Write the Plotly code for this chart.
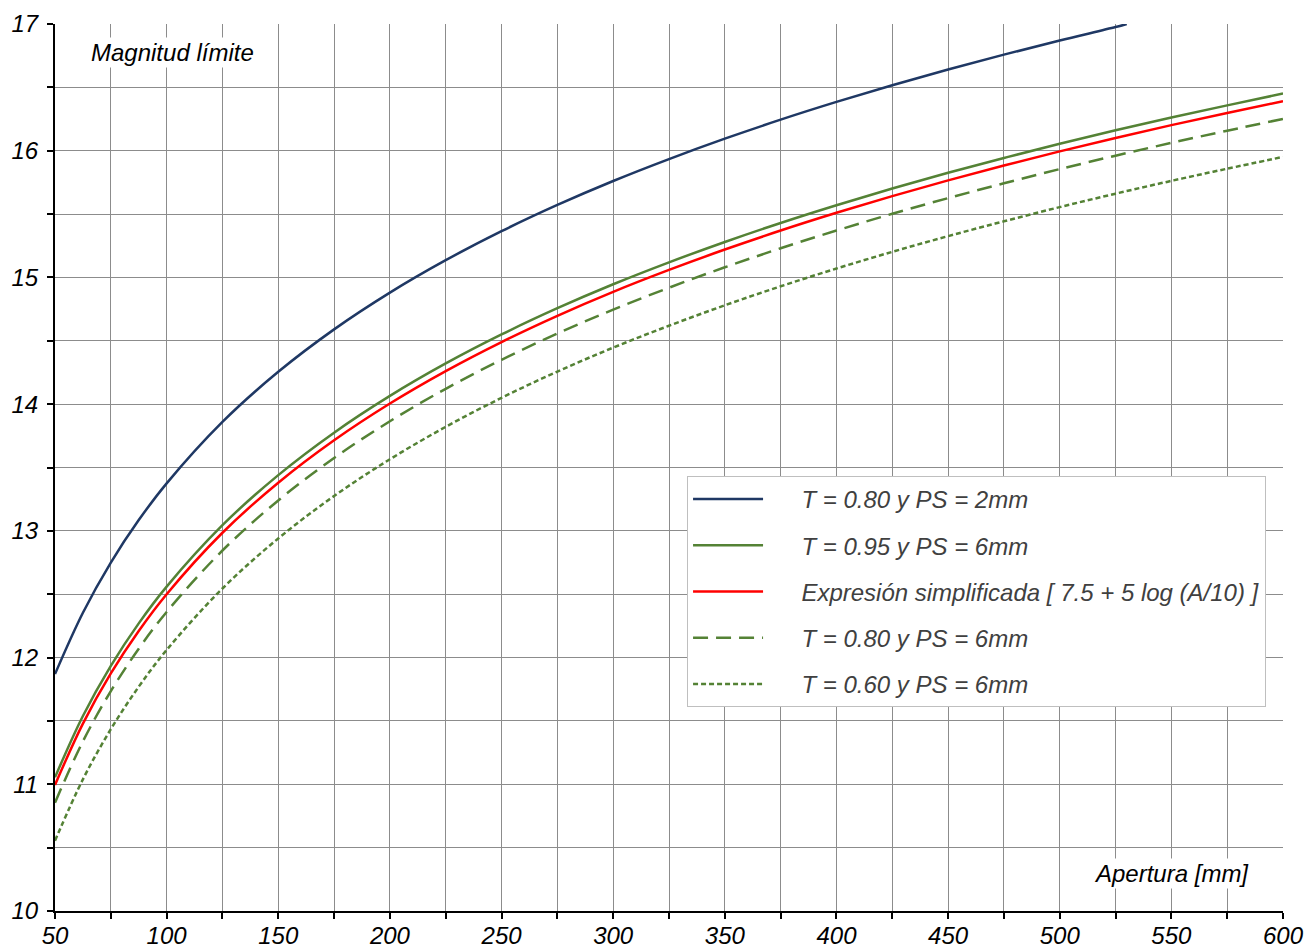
import plotly.graph_objects as go

# Aperture [mm]
apertura = [50, 62.5, 75, 87.5, 100, 125, 150, 175, 200, 225, 250, 275, 300,
            325, 350, 375, 400, 425, 450, 475, 500, 525, 550, 575, 600]
apertura_azul = [50, 62.5, 75, 87.5, 100, 125, 150, 175, 200, 225, 250, 275, 300,
                 325, 350, 375, 400, 425, 450, 475, 500, 525, 530]

# Limiting magnitude
t080_ps2 = [11.870, 12.354, 12.750, 13.085, 13.375, 13.860, 14.255, 14.590, 14.880,
            15.136, 15.365, 15.572, 15.761, 15.934, 16.095, 16.245, 16.385, 16.517,
            16.641, 16.758, 16.870, 16.976, 17.000]
t095_ps6 = [11.055, 11.539, 11.935, 12.270, 12.560, 13.045, 13.440, 13.775, 14.065,
            14.321, 14.550, 14.757, 14.946, 15.119, 15.280, 15.430, 15.570, 15.702,
            15.826, 15.943, 16.055, 16.161, 16.262, 16.358, 16.451]
simplificada = [10.995, 11.479, 11.875, 12.210, 12.500, 12.985, 13.380, 13.715, 14.005,
                14.261, 14.490, 14.697, 14.886, 15.059, 15.220, 15.370, 15.510, 15.642,
                15.766, 15.883, 15.995, 16.101, 16.202, 16.298, 16.391]
t080_ps6 = [10.855, 11.339, 11.735, 12.070, 12.360, 12.845, 13.240, 13.575, 13.865,
            14.121, 14.350, 14.557, 14.746, 14.919, 15.080, 15.230, 15.370, 15.502,
            15.626, 15.743, 15.855, 15.961, 16.062, 16.158, 16.251]
t060_ps6 = [10.555, 11.039, 11.435, 11.770, 12.060, 12.545, 12.940, 13.275, 13.565,
            13.821, 14.050, 14.257, 14.446, 14.619, 14.780, 14.930, 15.070, 15.202,
            15.326, 15.443, 15.555, 15.661, 15.762, 15.858, 15.951]

nombres = ["T = 0.80 y PS = 2mm", "T = 0.95 y PS = 6mm",
           "Expresión simplificada [ 7.5 + 5 log (A/10) ]",
           "T = 0.80 y PS = 6mm", "T = 0.60 y PS = 6mm"]

x_ticks = list(range(50, 601, 25))
x_labels = [str(v) if v % 50 == 0 else "" for v in x_ticks]
y_ticks = [10 + 0.5 * i for i in range(15)]
y_labels = [str(int(v)) if v == int(v) else "" for v in y_ticks]

navy = "#1F3864"
green = "#548235"
red = "#FF0000"

PAD = "\u00a0" * 5

fig = go.Figure()
series = [
    (apertura_azul, t080_ps2, nombres[0], navy, "solid", 1),
    (apertura, t095_ps6, nombres[1], green, "solid", 2),
    (apertura, simplificada, nombres[2], red, "solid", 3),
    (apertura, t080_ps6, nombres[3], green, "15px,8px", 4),
    (apertura, t060_ps6, nombres[4], green, "5px,3px", 5),
]
for xs, ys, name, col, dash, rank in series:
    fig.add_trace(go.Scatter(
        x=xs, y=ys, name=PAD + name, mode="lines",
        line=dict(color=col, width=2.5, dash=dash, shape="spline"),
        legendgroup=name, legendrank=rank,
    ))

font_family = "Arial, Liberation Sans, sans-serif"
FS = 24
fig.update_layout(
    width=1308, height=951,
    margin=dict(l=55, r=25, t=24, b=40),
    paper_bgcolor="white", plot_bgcolor="white",
    font=dict(family=font_family, size=FS, color="black", style="italic"),
    showlegend=True,
    legend=dict(
        x=0.5147, y=0.4904, xanchor="left", yanchor="top",
        bgcolor="white", bordercolor="#BFBFBF", borderwidth=1,
        font=dict(family=font_family, size=FS, color="#404040", style="italic"),
        itemwidth=70, tracegroupgap=12, traceorder="grouped",
    ),
    xaxis=dict(
        range=[50, 600], tickvals=x_ticks, ticktext=x_labels,
        showgrid=True, gridcolor="#8C8C8C", gridwidth=1,
        showline=True, linecolor="black", linewidth=2,
        ticks="outside", ticklen=6, tickwidth=2, tickcolor="black",
        zeroline=False, automargin=False, ticklabelstandoff=-4,
        tickfont=dict(family=font_family, size=FS, color="black", style="italic"),
    ),
    yaxis=dict(
        range=[10, 17], tickvals=y_ticks, ticktext=y_labels,
        showgrid=True, gridcolor="#8C8C8C", gridwidth=1,
        showline=True, linecolor="black", linewidth=2,
        ticks="outside", ticklen=6, tickwidth=2, tickcolor="black",
        zeroline=False, automargin=False, ticklabelstandoff=4,
        tickfont=dict(family=font_family, size=FS, color="black", style="italic"),
    ),
    annotations=[
        dict(text="Magnitud límite", xref="paper", yref="paper", x=0.0953, y=0.9684,
             xanchor="center", yanchor="middle",
             showarrow=False, bgcolor="white",
             font=dict(family=font_family, size=FS, color="black", style="italic")),
        dict(text="Apertura [mm]", xref="paper", yref="paper", x=0.9096, y=0.0428,
             xanchor="center", yanchor="middle",
             showarrow=False, bgcolor="white",
             font=dict(family=font_family, size=FS, color="black", style="italic")),
    ],
)

fig.write_html("out.html", config={"displayModeBar": False},
               post_script="document.body.style.margin='0';document.body.style.overflow='hidden';")
